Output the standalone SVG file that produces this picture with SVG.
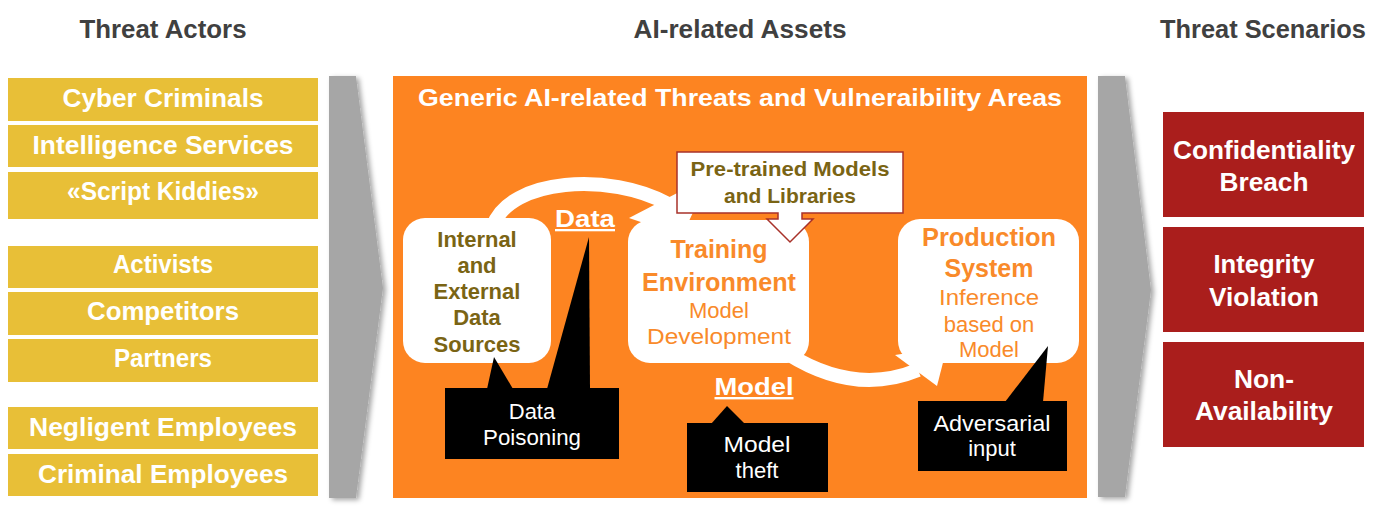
<svg xmlns="http://www.w3.org/2000/svg" width="1378" height="512" viewBox="0 0 1378 512">
<defs>
<style>
text{font-family:"Liberation Sans",Arial,sans-serif;text-anchor:middle}
.hdr{font-size:26px;font-weight:bold;fill:#404040}
.actor{fill:#E8BF37}
.at{font-size:25px;font-weight:bold;fill:#fff}
.scen{fill:#AA1E1C}
.st{font-size:26px;font-weight:bold;fill:#fff}
.gray{fill:#A6A6A6}
.wbox{fill:#fff}
.olive{fill:#7A6414;font-weight:bold}
.orb{fill:#F98A2A;font-weight:bold}
.orn{fill:#F98A2A}
.blk{fill:#000}
.wt{fill:#fff;font-size:22px}
.ul{fill:#fff;font-weight:bold;text-decoration:underline}
.arc{fill:none;stroke:#fff;stroke-width:14}
</style>
<filter id="sh" x="-20%" y="-5%" width="160%" height="115%">
<feDropShadow dx="3" dy="2" stdDeviation="2.5" flood-color="#000" flood-opacity="0.35"/>
</filter>
</defs>
<rect width="1378" height="512" fill="#fff"/>

<g id="headers">
<text class="hdr" x="163" y="38" textLength="167" lengthAdjust="spacingAndGlyphs">Threat Actors</text>
<text class="hdr" x="740" y="38" textLength="213" lengthAdjust="spacingAndGlyphs">AI-related Assets</text>
<text class="hdr" x="1263" y="38" textLength="206" lengthAdjust="spacingAndGlyphs">Threat Scenarios</text>
</g>

<g id="actors">
<g id="a1"><rect class="actor" x="8" y="78" width="310" height="43"/><text class="at" x="163" y="107" textLength="201" lengthAdjust="spacingAndGlyphs">Cyber Criminals</text></g>
<g id="a2"><rect class="actor" x="8" y="125" width="310" height="42"/><text class="at" x="163" y="154" textLength="261" lengthAdjust="spacingAndGlyphs">Intelligence Services</text></g>
<g id="a3"><rect class="actor" x="8" y="172" width="310" height="47"/><text class="at" x="163" y="200" textLength="192" lengthAdjust="spacingAndGlyphs">«Script Kiddies»</text></g>
<g id="a4"><rect class="actor" x="8" y="246" width="310" height="42"/><text class="at" x="163" y="273" textLength="100" lengthAdjust="spacingAndGlyphs">Activists</text></g>
<g id="a5"><rect class="actor" x="8" y="292" width="310" height="43"/><text class="at" x="163" y="320" textLength="152" lengthAdjust="spacingAndGlyphs">Competitors</text></g>
<g id="a6"><rect class="actor" x="8" y="339" width="310" height="43"/><text class="at" x="163" y="367" textLength="98" lengthAdjust="spacingAndGlyphs">Partners</text></g>
<g id="a7"><rect class="actor" x="8" y="407" width="310" height="42"/><text class="at" x="163" y="436" textLength="268" lengthAdjust="spacingAndGlyphs">Negligent Employees</text></g>
<g id="a8"><rect class="actor" x="8" y="454" width="310" height="42"/><text class="at" x="163" y="483" textLength="250" lengthAdjust="spacingAndGlyphs">Criminal Employees</text></g>
</g>

<g id="chevron-left"><polygon class="gray" filter="url(#sh)" points="329,76 356,76 383,288 356,498 329,498"/></g>
<g id="chevron-right"><polygon class="gray" filter="url(#sh)" points="1098,76 1125,76 1151,290 1125,497 1098,497"/></g>

<g id="assets-panel">
<rect x="393" y="76" width="694" height="422" fill="#FD8421"/>
<text x="740" y="106" font-size="23" font-weight="bold" fill="#fff" textLength="644" lengthAdjust="spacingAndGlyphs">Generic AI-related Threats and Vulneraibility Areas</text>
</g>

<g id="connectors">
<path class="arc" d="M 493 226 C 510 178 610 172 668 204"/>
<polygon fill="#fff" points="629,218 710,176 682,236"/>
<path class="arc" d="M 788 354 Q 855 396 918 370"/>
<polygon fill="#fff" points="895,355 947,347 937,386"/>
</g>

<g id="internal-sources">
<rect class="wbox" x="403" y="218" width="148" height="145" rx="22"/>
<text class="olive" font-size="22"><tspan x="477" y="247">Internal</tspan><tspan x="477" y="273">and</tspan><tspan x="477" y="299">External</tspan><tspan x="477" y="325">Data</tspan><tspan x="477" y="352">Sources</tspan></text>
</g>

<g id="training-env">
<rect class="wbox" x="628" y="220" width="181" height="143" rx="22"/>
<text class="orb" font-size="25"><tspan x="719" y="258">Training</tspan><tspan x="719" y="291" textLength="154" lengthAdjust="spacingAndGlyphs">Environment</tspan></text>
<text class="orn" font-size="22"><tspan x="719" y="318">Model</tspan><tspan x="719" y="344" textLength="144" lengthAdjust="spacingAndGlyphs">Development</tspan></text>
</g>

<g id="production">
<rect class="wbox" x="898" y="219" width="181" height="144" rx="22"/>
<text class="orb" font-size="25"><tspan x="989" y="246" textLength="134" lengthAdjust="spacingAndGlyphs">Production</tspan><tspan x="989" y="277">System</tspan></text>
<text class="orn" font-size="22"><tspan x="989" y="305" textLength="100" lengthAdjust="spacingAndGlyphs">Inference</tspan><tspan x="989" y="332">based on</tspan><tspan x="989" y="357">Model</tspan></text>
</g>

<g id="pretrained">
<path d="M 677 152 H 903 V 213 H 802 V 219 H 813 L 790 242 L 767 219 H 778 V 213 H 677 Z" fill="#fff" stroke="#A8322A" stroke-width="1.5"/>
<text class="olive" font-size="21"><tspan x="790" y="176" textLength="199" lengthAdjust="spacingAndGlyphs">Pre-trained Models</tspan><tspan x="790" y="203">and Libraries</tspan></text>
</g>

<g id="label-data"><text class="ul" x="585" y="227" font-size="23" textLength="60" lengthAdjust="spacingAndGlyphs">Data</text></g>
<g id="label-model"><text class="ul" x="754" y="395" font-size="24" textLength="79" lengthAdjust="spacingAndGlyphs">Model</text></g>

<g id="data-poisoning">
<polygon class="blk" points="487,389 494,357 513,389"/>
<polygon class="blk" points="547,389 589,237 590,389"/>
<rect class="blk" x="445" y="388" width="174" height="71"/>
<text class="wt"><tspan x="532" y="419">Data</tspan><tspan x="532" y="445" textLength="98" lengthAdjust="spacingAndGlyphs">Poisoning</tspan></text>
</g>

<g id="model-theft">
<polygon class="blk" points="711,424 727,406 745,424"/>
<rect class="blk" x="687" y="423" width="141" height="69"/>
<text class="wt" font-size="21"><tspan x="757" y="452" textLength="67" lengthAdjust="spacingAndGlyphs">Model</tspan><tspan x="757" y="478">theft</tspan></text>
</g>

<g id="adversarial">
<polygon class="blk" points="1005,402 1048,346 1043,402"/>
<rect class="blk" x="918" y="401" width="149" height="70"/>
<text class="wt"><tspan x="992" y="431" textLength="117" lengthAdjust="spacingAndGlyphs">Adversarial</tspan><tspan x="992" y="456">input</tspan></text>
</g>

<g id="scenarios">
<g id="s1"><rect class="scen" x="1163" y="112" width="201" height="105"/><text class="st"><tspan x="1264" y="159" textLength="182" lengthAdjust="spacingAndGlyphs">Confidentiality</tspan><tspan x="1264" y="191" textLength="89" lengthAdjust="spacingAndGlyphs">Breach</tspan></text></g>
<g id="s2"><rect class="scen" x="1163" y="227" width="201" height="105"/><text class="st"><tspan x="1264" y="273" textLength="101" lengthAdjust="spacingAndGlyphs">Integrity</tspan><tspan x="1264" y="306" textLength="110" lengthAdjust="spacingAndGlyphs">Violation</tspan></text></g>
<g id="s3"><rect class="scen" x="1163" y="342" width="201" height="105"/><text class="st"><tspan x="1264" y="388" textLength="60" lengthAdjust="spacingAndGlyphs">Non-</tspan><tspan x="1264" y="420" textLength="138" lengthAdjust="spacingAndGlyphs">Availability</tspan></text></g>
</g>
</svg>
